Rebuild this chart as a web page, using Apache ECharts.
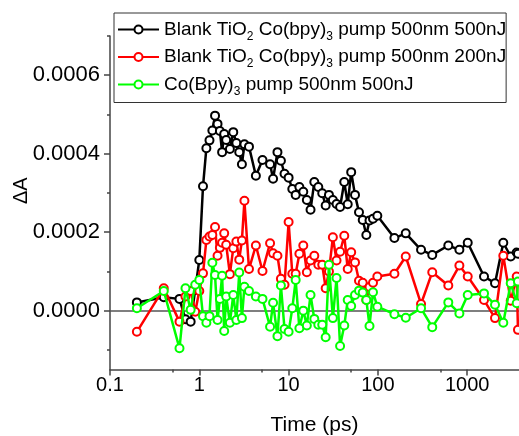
<!DOCTYPE html>
<html><head><meta charset="utf-8">
<script src="https://cdn.jsdelivr.net/npm/echarts@6/dist/echarts.min.js"></script>
<style>html,body{margin:0;padding:0;background:#fff}#c{width:519px;height:436px}</style>
</head><body><div id="c"></div>
<script>
// time delays (ps)
const times = [0.2,0.4,0.6,0.7,0.8,0.9,1.0,1.1,1.2,1.3,1.4,1.5,1.6,1.7,1.8,1.9,2.0,2.2,2.4,2.6,2.8,3.0,3.2,3.6,4.3,5.1,6.2,6.7,7.5,8.2,9,10,11,12,13.2,14.6,16,17.6,19.4,21.5,23.8,26,28.3,31.3,34.4,37.7,42,45.9,50.2,55.4,61.4,67.6,74.2,80.5,88.1,98.5,153,205,304,406,614,817,1013,1542,2047,2535,3069,3582,3700];
// ΔA values
const blankTiO2_500nJ = [0.21e-4,0.34e-4,0.30e-4,-0.22e-4,-0.28e-4,0.53e-4,1.29e-4,3.17e-4,4.14e-4,4.34e-4,4.59e-4,4.97e-4,4.76e-4,4.58e-4,4.04e-4,4.50e-4,4.35e-4,4.12e-4,4.55e-4,4.27e-4,4.04e-4,3.73e-4,4.24e-4,4.18e-4,3.44e-4,3.84e-4,3.73e-4,3.36e-4,4.04e-4,3.82e-4,3.49e-4,3.39e-4,3.10e-4,2.95e-4,3.15e-4,3.03e-4,2.82e-4,2.57e-4,3.28e-4,3.15e-4,2.99e-4,2.68e-4,2.95e-4,2.82e-4,2.72e-4,2.64e-4,3.28e-4,2.71e-4,3.53e-4,2.95e-4,2.51e-4,2.31e-4,1.93e-4,2.30e-4,2.34e-4,2.42e-4,1.85e-4,1.97e-4,1.55e-4,1.42e-4,1.66e-4,1.55e-4,1.73e-4,0.87e-4,0.70e-4,1.73e-4,1.38e-4,1.48e-4,1.45e-4];
const blankTiO2_200nJ = [-0.54e-4,0.57e-4,-0.28e-4,0.36e-4,0.50e-4,-0.03e-4,0.50e-4,0.95e-4,1.80e-4,1.89e-4,1.93e-4,2.13e-4,1.40e-4,1.60e-4,1.73e-4,1.97e-4,1.68e-4,0.93e-4,1.59e-4,1.76e-4,1.30e-4,1.79e-4,2.80e-4,1.06e-4,1.66e-4,1.01e-4,1.72e-4,1.46e-4,1.40e-4,0.81e-4,0.66e-4,2.26e-4,0.94e-4,0.94e-4,1.45e-4,1.66e-4,0.98e-4,1.28e-4,1.40e-4,1.17e-4,1.17e-4,0.57e-4,1.00e-4,1.87e-4,1.28e-4,1.50e-4,1.91e-4,1.06e-4,1.49e-4,1.23e-4,0.76e-4,0.71e-4,0.27e-4,0.60e-4,0.71e-4,0.87e-4,0.94e-4,1.38e-4,0.17e-4,0.98e-4,0.64e-4,1.15e-4,0.87e-4,0.27e-4,-0.19e-4,1.40e-4,0.25e-4,0.87e-4,-0.49e-4];
const coBpy_500nJ = [0.06e-4,0.50e-4,-0.96e-4,0.57e-4,0.02e-4,0.66e-4,0.78e-4,-0.14e-4,-0.31e-4,-0.14e-4,1.22e-4,0.91e-4,-0.24e-4,0.30e-4,0.89e-4,-0.52e-4,0.36e-4,-0.31e-4,0.40e-4,-0.24e-4,0.97e-4,-0.19e-4,0.61e-4,0.50e-4,0.36e-4,0.30e-4,-0.41e-4,0.20e-4,-0.65e-4,0.64e-4,-0.47e-4,-0.54e-4,0.06e-4,0.78e-4,-0.45e-4,0.00e-4,-0.38e-4,0.40e-4,-0.21e-4,-0.36e-4,-0.36e-4,-0.68e-4,1.17e-4,-0.19e-4,0.83e-4,-0.90e-4,-0.38e-4,0.27e-4,0.12e-4,0.40e-4,0.51e-4,0.46e-4,0.27e-4,-0.39e-4,0.47e-4,0.10e-4,-0.09e-4,-0.18e-4,0.06e-4,-0.42e-4,0.21e-4,-0.07e-4,0.40e-4,0.44e-4,0.15e-4,-0.31e-4,0.70e-4,0.19e-4,0.74e-4];

const seriesNames = ['Blank TiO2 Co(bpy)3 pump 500nm 500nJ','Blank TiO2 Co(bpy)3 pump 500nm 200nJ','Co(Bpy)3 pump 500nm 500nJ'];
const legendRich = ['{a|Blank TiO}{s|2}{a| Co(bpy)}{s|3}{a| pump 500nm 500nJ}','{a|Blank TiO}{s|2}{a| Co(bpy)}{s|3}{a| pump 500nm 200nJ}','{a|Co(Bpy)}{s|3}{a| pump 500nm 500nJ}'];
const seriesColors = ['#000000','#ff0000','#00ff00'];
const xMajorTicks = [0.1,1,10,100,1000];
const xMinorTicks = [0.5,5,50,500];
const yMajorTicks = [0,0.0002,0.0004,0.0006];
const yMinorTicks = [-0.0001,0.0001,0.0003,0.0005,0.0007];

const FONT = '"Liberation Sans", Arial, sans-serif';
const AX = '#444';
const chart = echarts.init(document.getElementById('c'), null, {renderer:'canvas'});
const allData = [blankTiO2_500nJ, blankTiO2_200nJ, coBpy_500nJ];
const xRange = {min:0.1, max:3800};
const yRange = {min:-0.00015, max:0.0007};

chart.setOption({
  animation:false,
  backgroundColor:'#fff',
  grid:{left:110, right:0, top:36, bottom:66.5, containLabel:false, outerBoundsMode:'none'},
  legend:{
    orient:'vertical', left:114, top:13,
    padding:[7,0,5,3], itemGap:5,
    itemWidth:41, itemHeight:10,
    borderColor:'#333', borderWidth:1, backgroundColor:'#fff',
    data:seriesNames,
    formatter:function(n){return legendRich[seriesNames.indexOf(n)];},
    textStyle:{fontFamily:FONT, color:'#000', rich:{
      a:{fontSize:19, fontFamily:FONT, color:'#000', lineHeight:26},
      s:{fontSize:12, fontFamily:FONT, color:'#000', lineHeight:12, verticalAlign:'bottom'}
    }}
  },
  xAxis:[{
    type:'log', logBase:10, min:xRange.min, max:xRange.max, position:'bottom',
    name:'Time (ps)', nameLocation:'middle', nameGap:45, nameMoveOverlap:false,
    nameTextStyle:{fontFamily:FONT, fontSize:21, color:'#000'},
    axisLine:{show:true, onZero:false, lineStyle:{color:AX, width:1.5}},
    axisTick:{show:true, inside:false, length:6, customValues:xMajorTicks, lineStyle:{color:AX, width:1.5}},
    axisLabel:{show:true, margin:6, customValues:xMajorTicks, fontFamily:FONT, fontSize:20, color:'#000',
      formatter:function(v){return String(v);}},
    splitLine:{show:false}, minorTick:{show:false}
  },{
    type:'log', logBase:10, min:xRange.min, max:xRange.max, position:'bottom',
    axisLine:{show:false, onZero:false},
    axisTick:{show:true, inside:false, length:3, customValues:xMinorTicks, lineStyle:{color:AX, width:1.5}},
    axisLabel:{show:false}, splitLine:{show:false}
  }],
  yAxis:[{
    type:'value', min:yRange.min, max:yRange.max, position:'left',
    name:'ΔA', nameLocation:'middle', nameGap:79, nameMoveOverlap:false,
    nameTextStyle:{fontFamily:FONT, fontSize:20, color:'#000', padding:[0,0,0,24]},
    axisLine:{show:true, onZero:false, lineStyle:{color:AX, width:1.5}},
    axisTick:{show:true, inside:false, length:6, customValues:yMajorTicks, lineStyle:{color:AX, width:1.5}},
    axisLabel:{show:true, margin:10, customValues:yMajorTicks, fontFamily:FONT, fontSize:22, color:'#000',
      formatter:function(v){return v.toFixed(4);}},
    splitLine:{show:false}
  },{
    type:'value', min:yRange.min, max:yRange.max, position:'left',
    axisLine:{show:false, onZero:false},
    axisTick:{show:true, inside:false, length:3, customValues:yMinorTicks, lineStyle:{color:AX, width:1.5}},
    axisLabel:{show:false}, splitLine:{show:false}
  }],
  series: seriesNames.map(function(name, k){
    const s = {
      name:name, type:'line', xAxisIndex:0, yAxisIndex:0,
      data: times.map(function(t,i){return [t, allData[k][i]];}),
      symbol:'emptyCircle', symbolSize:8, showAllSymbol:true,
      lineStyle:{color:seriesColors[k], width:2.5},
      itemStyle:{color:seriesColors[k], borderColor:seriesColors[k], borderWidth:1.2},
      emphasis:{disabled:true}, z:2+k
    };
    if (k === 0) {
      s.markLine = {silent:true, symbol:'none', label:{show:false},
        lineStyle:{color:'#555', width:1.5, type:'solid'}, data:[{yAxis:0}], z:1};
    }
    return s;
  })
});
</script></body></html>
